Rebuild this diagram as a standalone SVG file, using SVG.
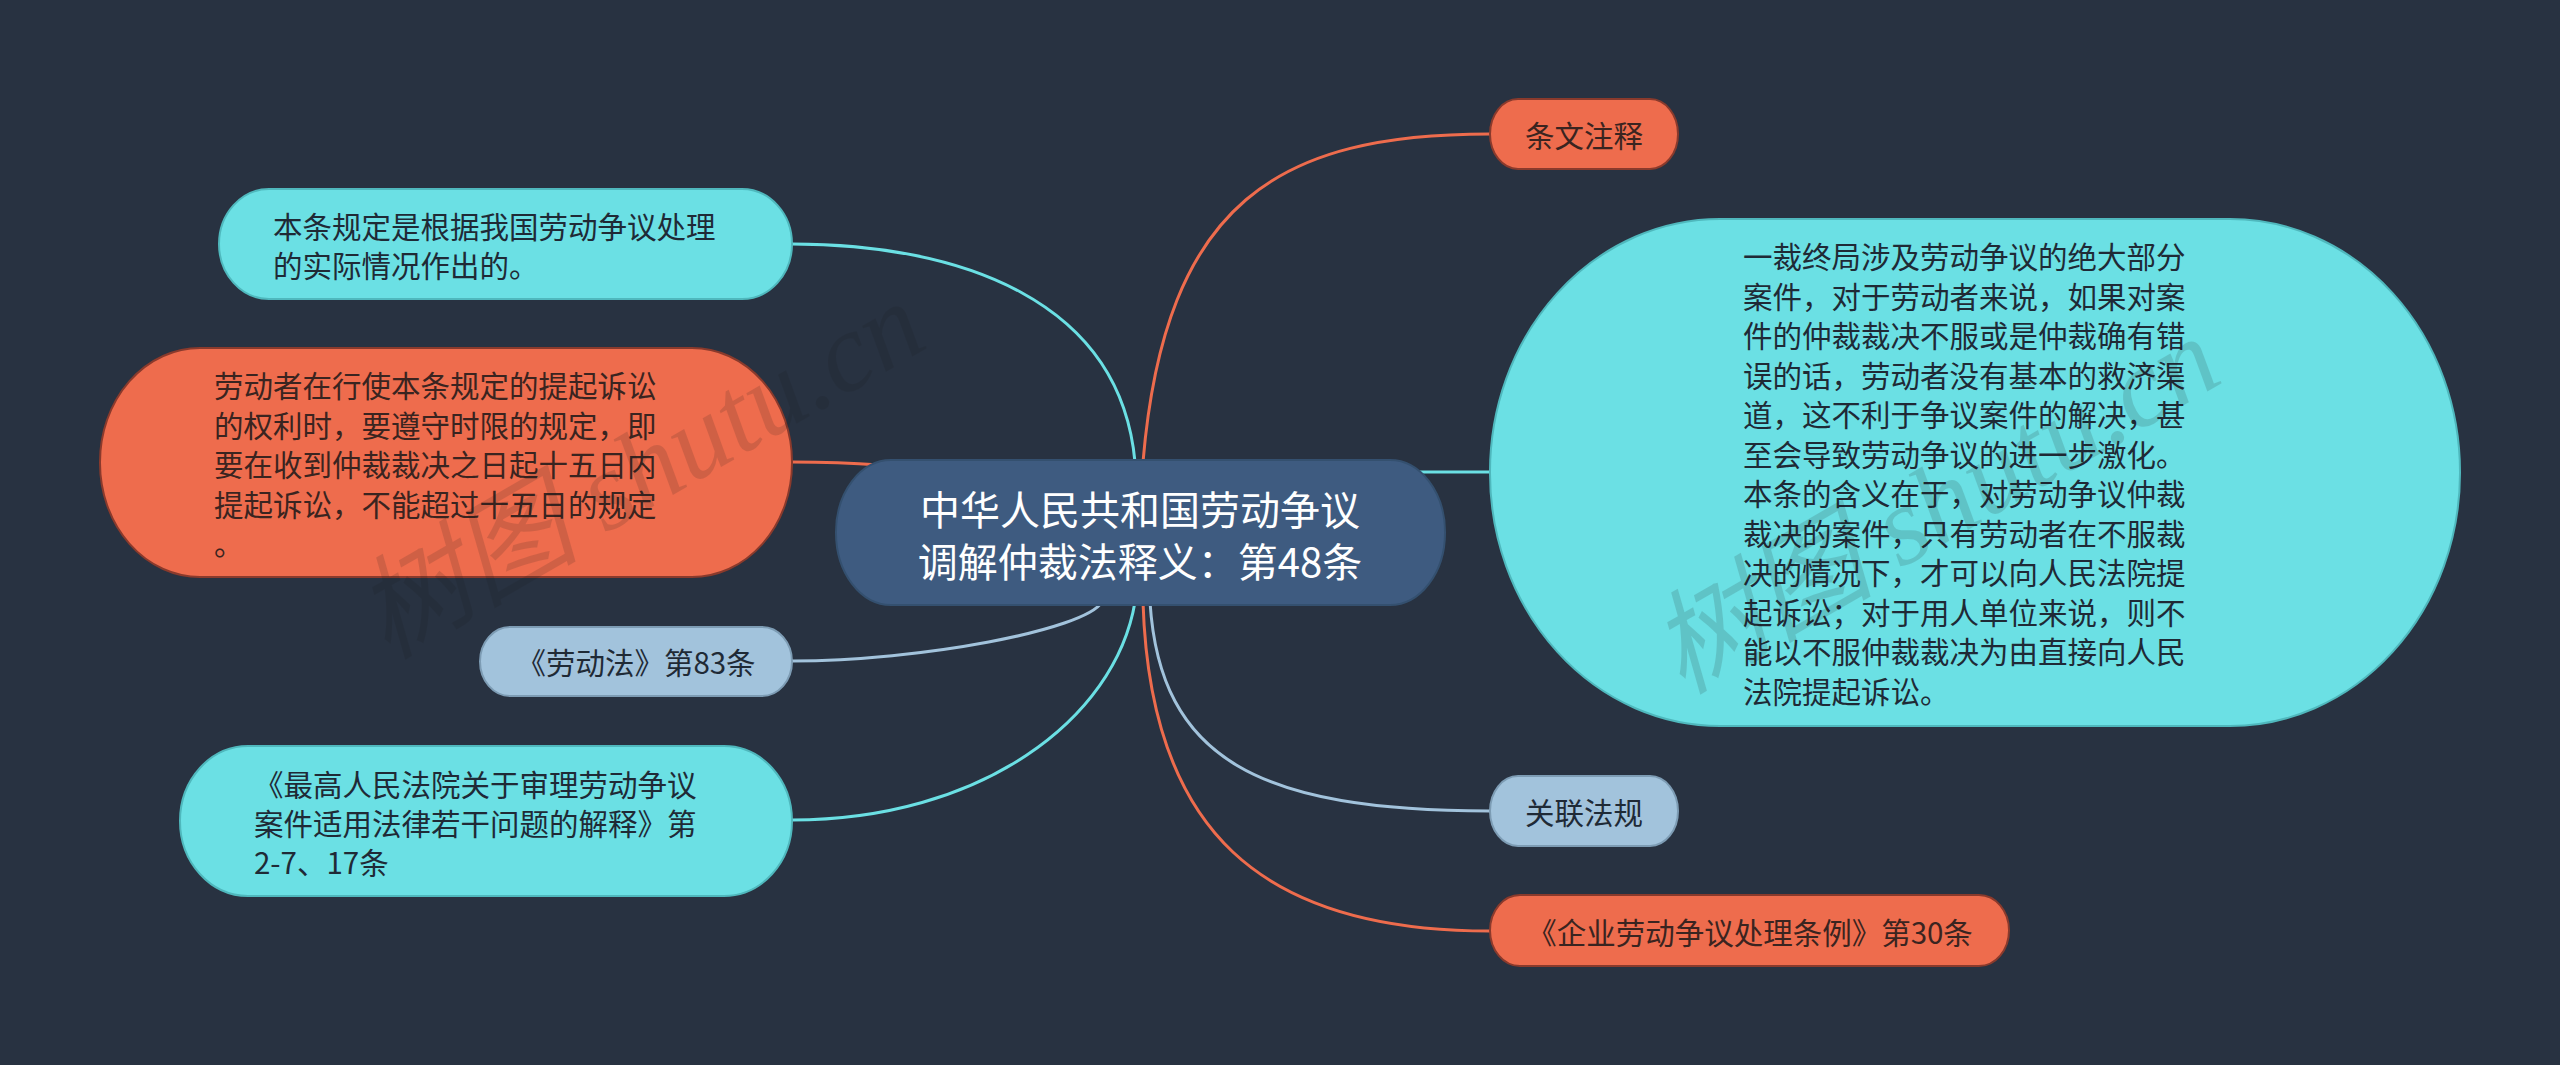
<svg xmlns="http://www.w3.org/2000/svg" width="2560" height="1065" viewBox="0 0 2560 1065">
<style>
  text { font-family: "Noto Sans CJK SC", "Noto Sans", sans-serif; dominant-baseline: central; }
  .t { font-size: 29.5px; }
  .dk { fill: #1f2a36; }
  .do { fill: #3a2420; }
  .ctr { font-size: 40px; fill: #ffffff; text-anchor: middle; }
  .mid { text-anchor: middle; }
  .cyan { fill: #6be0e4; stroke: #4fb8bd; stroke-width: 2; }
  .orange { fill: #ee6c4d; stroke: #8a3a2c; stroke-width: 2; }
  .lblue { fill: #a2c3dc; stroke: #7d9cb4; stroke-width: 2; }
  .center { fill: #3e5b80; stroke: #34506f; stroke-width: 2; }
  .c { fill: none; stroke-width: 3; stroke-linecap: round; }
  .lc { stroke: #6be0e4; }
  .lo { stroke: #ee6c4d; }
  .lb { stroke: #a2c3dc; }
  .wm { font-family: "Liberation Serif", "Noto Sans CJK SC", serif; font-size: 112px; font-style: italic; fill: #1a1a1a; opacity: 0.14; }
</style>
<rect x="0" y="0" width="2560" height="1065" fill="#283241"/>

<g id="connectors">
  <path class="c lo" d="M1143,462 C1165,200 1280,134 1490,134"/>
  <path class="c lc" d="M1135,462 C1120,300 960,244 792,244"/>
  <path class="c lo" d="M792,462 C900,462 1000,470 1140,532"/>
  <path class="c lc" d="M1420,472 L1490,472"/>
  <path class="c lb" d="M1102,602 C1085,630 920,661 792,661"/>
  <path class="c lc" d="M1135,602 C1115,720 980,820 792,820"/>
  <path class="c lo" d="M1143,602 C1150,830 1260,931 1490,931"/>
  <path class="c lb" d="M1150,602 C1160,760 1260,811 1490,811"/>
</g>

<g id="node-center">
  <rect class="center" x="836" y="460" width="609" height="145" rx="55" ry="72"/>
  <text class="ctr" x="1140" y="508">中华人民共和国劳动争议</text>
  <text class="ctr" x="1140" y="560">调解仲裁法释义：第48条</text>
</g>

<g id="node-tiaowen">
  <rect class="orange" x="1490" y="99" width="188" height="70" rx="28" ry="35"/>
  <text class="t do mid" x="1584" y="134">条文注释</text>
</g>

<g id="node-explain">
  <rect class="cyan" x="1490" y="219" width="970" height="507" rx="230" ry="253"/>
  <text class="t dk" x="1743" y="255">一裁终局涉及劳动争议的绝大部分</text>
  <text class="t dk" x="1743" y="294.5">案件，对于劳动者来说，如果对案</text>
  <text class="t dk" x="1743" y="334">件的仲裁裁决不服或是仲裁确有错</text>
  <text class="t dk" x="1743" y="373.5">误的话，劳动者没有基本的救济渠</text>
  <text class="t dk" x="1743" y="413">道，这不利于争议案件的解决，甚</text>
  <text class="t dk" x="1743" y="452.5">至会导致劳动争议的进一步激化。</text>
  <text class="t dk" x="1743" y="492">本条的含义在于，对劳动争议仲裁</text>
  <text class="t dk" x="1743" y="531.5">裁决的案件，只有劳动者在不服裁</text>
  <text class="t dk" x="1743" y="571">决的情况下，才可以向人民法院提</text>
  <text class="t dk" x="1743" y="610.5">起诉讼；对于用人单位来说，则不</text>
  <text class="t dk" x="1743" y="650">能以不服仲裁裁决为由直接向人民</text>
  <text class="t dk" x="1743" y="689.5">法院提起诉讼。</text>
</g>

<g id="node-guanlian">
  <rect class="lblue" x="1490" y="776" width="188" height="70" rx="28" ry="35"/>
  <text class="t dk mid" x="1584" y="811">关联法规</text>
</g>

<g id="node-qiye">
  <rect class="orange" x="1490" y="895" width="519" height="71" rx="30" ry="35.5"/>
  <text class="t do mid" x="1750" y="931">《企业劳动争议处理条例》第30条</text>
</g>

<g id="node-bentiao">
  <rect class="cyan" x="219" y="189" width="573" height="110" rx="50" ry="55"/>
  <text class="t dk" x="273" y="225">本条规定是根据我国劳动争议处理</text>
  <text class="t dk" x="273" y="264">的实际情况作出的。</text>
</g>

<g id="node-laodongzhe">
  <rect class="orange" x="100" y="348" width="692" height="229" rx="100" ry="114"/>
  <text class="t do" x="214" y="384">劳动者在行使本条规定的提起诉讼</text>
  <text class="t do" x="214" y="423.5">的权利时，要遵守时限的规定，即</text>
  <text class="t do" x="214" y="463">要在收到仲裁裁决之日起十五日内</text>
  <text class="t do" x="214" y="502.5">提起诉讼，不能超过十五日的规定</text>
  <text class="t do" x="214" y="542">。</text>
</g>

<g id="node-laodongfa">
  <rect class="lblue" x="480" y="627" width="312" height="69" rx="30" ry="34.5"/>
  <text class="t dk mid" x="636" y="661">《劳动法》第83条</text>
</g>

<g id="node-zuigao">
  <rect class="cyan" x="180" y="746" width="612" height="150" rx="68" ry="75"/>
  <text class="t dk" x="254" y="783">《最高人民法院关于审理劳动争议</text>
  <text class="t dk" x="254" y="822">案件适用法律若干问题的解释》第</text>
  <text class="t dk" x="254" y="861">2-7、17条</text>
</g>

<g id="watermarks">
  <text class="wm" transform="translate(640,470) rotate(-30)" text-anchor="middle">树图 shutu.cn</text>
  <text class="wm" transform="translate(1935,505) rotate(-30)" text-anchor="middle">树图 shutu.cn</text>
</g>
</svg>
